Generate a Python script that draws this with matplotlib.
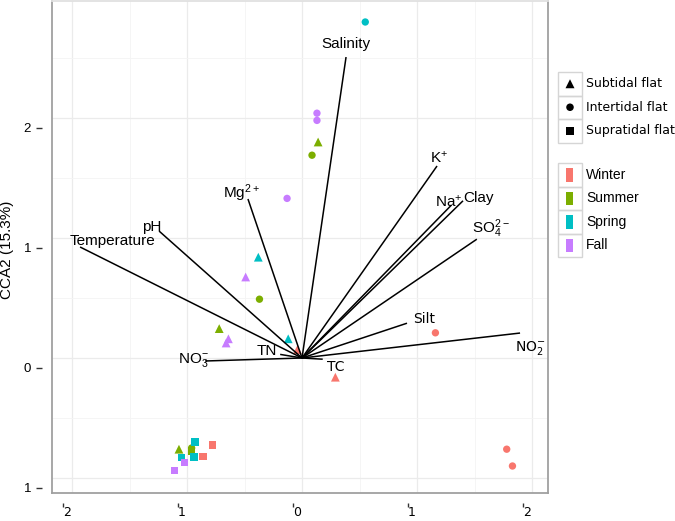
import matplotlib
matplotlib.use('Agg')
import matplotlib.pyplot as plt
import matplotlib.transforms as mtransforms
from matplotlib.patches import Rectangle

plt.rcParams['font.family'] = ['Liberation Sans', 'DejaVu Sans']
plt.rcParams['mathtext.fontset'] = 'custom'
plt.rcParams['mathtext.rm'] = 'Liberation Sans'
plt.rcParams['mathtext.default'] = 'regular'

# site scores (CCA1, CCA2)
season = ['Winter'] * 7 + ['Summer'] * 7 + ['Spring'] * 6 + ['Fall'] * 8
habitat = ['Subtidal flat', 'Subtidal flat', 'Intertidal flat', 'Intertidal flat', 'Intertidal flat',
           'Supratidal flat', 'Supratidal flat',
           'Subtidal flat', 'Intertidal flat', 'Intertidal flat', 'Subtidal flat', 'Subtidal flat',
           'Intertidal flat', 'Supratidal flat',
           'Intertidal flat', 'Subtidal flat', 'Subtidal flat', 'Supratidal flat', 'Supratidal flat',
           'Supratidal flat',
           'Intertidal flat', 'Intertidal flat', 'Intertidal flat', 'Subtidal flat', 'Subtidal flat',
           'Subtidal flat', 'Supratidal flat', 'Supratidal flat']
cca1 = [-0.04, 0.29, 1.16, 1.78, 1.83, -0.78, -0.86,
        0.14, 0.087, -0.37, -0.72, -1.07, -0.96, -0.96,
        0.55, -0.38, -0.12, -0.93, -1.05, -0.94,
        0.13, 0.13, -0.13, -0.49, -0.64, -0.66, -1.02, -1.11]
cca2 = [0.07, -0.16, 0.21, -0.76, -0.90, -0.725, -0.82,
        1.80, 1.69, 0.49, 0.245, -0.76, -0.75, -0.775,
        2.80, 0.84, 0.16, -0.70, -0.83, -0.825,
        2.04, 1.98, 1.33, 0.675, 0.16, 0.125, -0.87, -0.94]

# environmental vectors
env_names = ['Salinity', 'Temperature', 'pH', 'Mg$^{2+}$', 'K$^{+}$', 'Na$^{+}$', 'Clay',
             'SO$_4^{2-}$', 'Silt', 'NO$_2^{-}$', 'TC', 'TN', 'NO$_3^{-}$']
env_x = [0.383, -1.93, -1.243, -0.47, 1.174, 1.30, 1.40, 1.52, 0.913, 1.896, 0.18, -0.19, -0.843]
env_y = [2.508, 0.925, 1.058, 1.325, 1.60, 1.275, 1.31, 0.99, 0.29, 0.208, -0.01, 0.03, -0.025]

seasons = ['Winter', 'Summer', 'Spring', 'Fall']
habitats = ['Subtidal flat', 'Intertidal flat', 'Supratidal flat']
colors = {'Winter': '#F8766D', 'Summer': '#7CAE00', 'Spring': '#00BFC4', 'Fall': '#C77CFF'}
markers = {'Subtidal flat': '^', 'Intertidal flat': 'o', 'Supratidal flat': 's'}
msize = {'Subtidal flat': 40, 'Intertidal flat': 28, 'Supratidal flat': 28}

# label offsets in pixels from vector tips (dx right, dy down)
label_off = {'Salinity': (0, -13), 'Temperature': (32, -6), 'pH': (-7, -4), 'Mg$^{2+}$': (-6, -6),
             'K$^{+}$': (2, -8), 'Na$^{+}$': (-3, -3), 'Clay': (15, -3), 'SO$_4^{2-}$': (14, -10),
             'Silt': (17, -4), 'NO$_2^{-}$': (10, 15), 'TC': (13, 8), 'TN': (-13, -3),
             'NO$_3^{-}$': (-12, -1)}
dejavu_labels = ['Silt', 'TC', 'NO$_2^{-}$']

W, H = 675, 521
fig = plt.figure(figsize=(W / 100, H / 100), dpi=100)
ax = fig.add_axes([52 / W, 1 - 493 / H, (548 - 52) / W, (493 - 1) / H])

for s in seasons:
    for h in habitats:
        xs = [x for x, ss, hh in zip(cca1, season, habitat) if ss == s and hh == h]
        ys = [y for y, ss, hh in zip(cca2, season, habitat) if ss == s and hh == h]
        if xs:
            ax.scatter(xs, ys, marker=markers[h], s=msize[h], color=colors[s],
                       edgecolors='none', zorder=3)

for name, ex, ey in zip(env_names, env_x, env_y):
    ax.plot([0, ex], [0, ey], color='black', lw=1.1, zorder=4, solid_capstyle='butt')
    dx, dy = label_off[name]
    fam = 'DejaVu Sans' if name in dejavu_labels else 'Liberation Sans'
    ax.annotate(name, xy=(ex, ey), xytext=(dx, -dy), textcoords='offset pixels',
                ha='center', va='center', fontsize=11 if fam == 'Liberation Sans' else 10,
                family=fam, zorder=5)

ax.set_xlim(-2.174, 2.139)
ax.set_ylim(-1.125, 2.975)
ax.set_xticks([-2, -1, 0, 1, 2])
ax.set_xticklabels(['2', '1', '0', '1', '2'], family='DejaVu Sans', fontsize=9)
ax.set_yticks([-1, 0, 1, 2])
ax.set_yticklabels(['1', '0', '1', '2'], fontsize=9.5)
ax.set_xticks([-1.5, -0.5, 0.5, 1.5], minor=True)
ax.set_yticks([-0.5, 0.5, 1.5, 2.5], minor=True)
ax.tick_params(which='minor', length=0)
ax.tick_params(axis='x', which='major', length=3, width=1, color='#333333', pad=6.5)
ax.tick_params(axis='y', which='major', length=4, width=1, color='#333333', pad=11)
ax.grid(which='major', color='#EBEBEB', lw=0.9)
ax.grid(which='minor', color='#F4F4F4', lw=0.6)
ax.set_axisbelow(True)
for sp in ax.spines.values():
    sp.set_color('#A0A0A0')
    sp.set_linewidth(1.3)
ax.spines['top'].set_color('#E0E0E0')


def shift(dx, dy):
    return mtransforms.ScaledTranslation(dx / fig.dpi, dy / fig.dpi, fig.dpi_scale_trans)


for t in ax.xaxis.get_major_ticks():
    t.tick1line.set_transform(t.tick1line.get_transform() + shift(-9, -10))
    t.label1.set_transform(t.label1.get_transform() + shift(-5, 0))
for t in ax.yaxis.get_major_ticks():
    t.tick1line.set_transform(t.tick1line.get_transform() + shift(-10, -10))
    t.label1.set_transform(t.label1.get_transform() + shift(0, -10))

fig.text(7 / W, 1 - 250 / H, 'CCA2 (15.3%)', rotation=90, ha='center', va='center', fontsize=11)

# legends drawn in pixel space
lax = fig.add_axes([0, 0, 1, 1], facecolor='none')
lax.set_xlim(0, W)
lax.set_ylim(H, 0)
lax.axis('off')
key_w, key_h = 24, 23.5
y0 = 72
for i, h in enumerate(habitats):
    yy = y0 + i * key_h
    lax.add_patch(Rectangle((558, yy), key_w, key_h, fill=False, ec='#D5D5D5', lw=1))
    lax.scatter([558 + key_w / 2], [yy + key_h / 2], marker=markers[h], s=msize[h] * 1.05,
                color='black', edgecolors='none')
    lax.text(586, yy + key_h / 2, h, va='center', ha='left', fontsize=9, family='DejaVu Sans')
y1 = 163
for i, s in enumerate(seasons):
    yy = y1 + i * key_h
    lax.add_patch(Rectangle((558, yy), key_w, key_h, fill=False, ec='#D5D5D5', lw=1))
    lax.add_patch(Rectangle((566, yy + 5), 7, 13.5, color=colors[s], lw=0))
    lax.text(586, yy + key_h / 2, s, va='center', ha='left', fontsize=10)

fig.savefig('out.png', dpi=100)
